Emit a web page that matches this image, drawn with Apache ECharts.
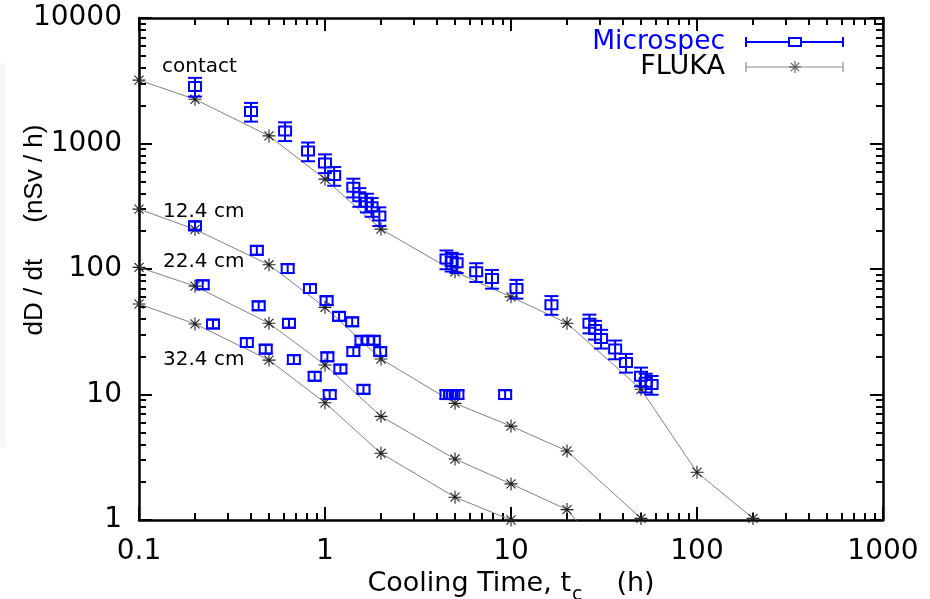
<!DOCTYPE html>
<html>
<head>
<meta charset="utf-8">
<script src="https://cdn.jsdelivr.net/npm/echarts@6/dist/echarts.min.js"></script>
<style>
  html, body { margin: 0; padding: 0; background: #fff; }
  #chart { width: 930px; height: 599px; }
</style>
</head>
<body>
<div id="chart"></div>
<script>
// Axis decades (labelled ticks)
const xTicks = [0.1, 1, 10, 100, 1000];
const yTicks = [1, 10, 100, 1000, 10000];

// FLUKA simulation: cooling time (h) and dose rate (nSv/h) at each depth
const flukaTime = [0.1, 0.2, 0.5, 1, 2, 5, 10, 20, 50, 100, 200];
const flukaContact = [3200, 2250, 1150, 520, 208, 95, 60, 37, 11, 2.4, 1.03];
const fluka124 = [300, 207, 108, 49.5, 19.2, 8.5, 5.6, 3.55, 1.03];
const fluka224 = [103, 73, 37, 17.2, 6.7, 3.06, 1.94, 1.21, 0.25];
const fluka324 = [52.6, 36.5, 18.8, 8.6, 3.4, 1.52, 1.0, 0.5];

// Microspec measurements: cooling time (h) and dose rate (nSv/h)
const msContactTime = [0.2, 0.4, 0.61, 0.81, 1.0, 1.12, 1.42, 1.53, 1.68, 1.78, 1.96,
                       4.5, 4.8, 5.1, 6.5, 7.9, 10.7, 16.5, 26.4, 28.3, 30.5, 36.3, 41.5, 50, 53, 57];
const msContact = [2850, 1800, 1260, 870, 700, 555, 448, 377, 340, 314, 265,
                   120, 115, 112, 95, 84, 70, 52, 37, 33, 28, 23, 18, 14, 12.5, 12];
const ms124Time = [0.2, 0.43, 0.63, 0.83, 1.02, 1.19, 1.4, 1.57, 1.71, 1.83, 1.98, 4.5, 4.7, 4.9, 5.15, 9.3];
const ms124 = [221, 141, 101, 70, 56, 42, 38, 27, 27, 27, 22, 10, 10, 10, 10, 10];
const ms224Time = [0.22, 0.44, 0.64, 1.03, 1.21, 1.42, 1.61];
const ms224 = [75, 51, 37, 20, 16, 22, 11];
const ms324Time = [0.25, 0.38, 0.48, 0.68, 0.88, 1.06];
const ms324 = [36.5, 26, 23, 19, 14, 10];

// Relative measurement uncertainty
const errContact = 0.17;
const errDepth = 0.08;

// Intermediate (unlabelled) log ticks: 2..9 within every decade
function minorTicks(lo, hi) {
  const out = [];
  for (let d = lo; d < hi; d *= 10) {
    for (let k = 2; k <= 9; k++) out.push(+(d * k).toPrecision(3));
  }
  return out;
}
const xMinor = minorTicks(0.1, 1000);
const yMinor = minorTicks(1, 10000);

const BLUE = '#0000ff';
const FONT = 'DejaVu Sans';

function zip(t, v, e) {
  return t.map((x, i) => (e == null ? [x, v[i]] : [x, v[i], v[i] * e]));
}

const chart = echarts.init(document.getElementById('chart'), null, { renderer: 'canvas' });

const axisLine = { show: true, lineStyle: { color: '#000', width: 2.5 } };
const tickStyle = { color: '#000', width: 2 };
const labelFmt = v => String(+(+v).toPrecision(4));

function xAxisDef(position, major, withLabels) {
  return {
    type: 'log', logBase: 10, min: 0.1, max: 1000, position,
    axisLine: major ? axisLine : { show: false },
    axisTick: { show: true, inside: true, length: major ? 13 : 7, lineStyle: tickStyle,
                customValues: major ? xTicks : xMinor },
    axisLabel: withLabels ? { show: true, customValues: xTicks, formatter: labelFmt,
                fontFamily: FONT, fontSize: 28, color: '#000', margin: 18 } : { show: false },
    splitLine: { show: false },
    minorTick: { show: false }
  };
}
function yAxisDef(position, major, withLabels) {
  return {
    type: 'log', logBase: 10, min: 1, max: 10000, position,
    axisLine: major ? axisLine : { show: false },
    axisTick: { show: true, inside: true, length: major ? 13 : 7, lineStyle: tickStyle,
                customValues: major ? yTicks : yMinor },
    axisLabel: withLabels ? { show: true, customValues: yTicks, formatter: labelFmt,
                fontFamily: FONT, fontSize: 28, color: '#000', margin: 17 } : { show: false },
    splitLine: { show: false },
    minorTick: { show: false }
  };
}

const xMain = xAxisDef('bottom', true, true);
xMain.name = '{a|Cooling Time, t}{s|c}{g| }{a|(h)}';
xMain.nameLocation = 'middle';
xMain.nameGap = 44;
xMain.nameTextStyle = {
  rich: {
    a: { fontFamily: FONT, fontSize: 27, color: '#000' },
    s: { fontFamily: FONT, fontSize: 19, color: '#000', padding: [21, 0, 0, 1] },
    g: { fontFamily: FONT, fontSize: 27, width: 34 }
  }
};

// Error bar + open square for each measurement
function renderMeasurement(params, api) {
  const x = api.value(0), y = api.value(1), e = api.value(2);
  const c = api.coord([x, y]);
  const hi = api.coord([x, y + e]);
  const lo = api.coord([x, y - e]);
  const cap = 7;
  const s = { stroke: BLUE, lineWidth: 2, fill: 'none' };
  return {
    type: 'group',
    children: [
      { type: 'line', shape: { x1: c[0], y1: hi[1], x2: c[0], y2: lo[1] }, style: s },
      { type: 'line', shape: { x1: c[0] - cap, y1: hi[1], x2: c[0] + cap, y2: hi[1] }, style: s },
      { type: 'line', shape: { x1: c[0] - cap, y1: lo[1], x2: c[0] + cap, y2: lo[1] }, style: s },
      { type: 'rect', shape: { x: c[0] - 6, y: c[1] - 4.5, width: 12, height: 9 }, style: s }
    ]
  };
}

const STAR = 'path://M10 0L10 20M0 10L20 10M3 3L17 17M3 17L17 3';

function flukaSeries(name, values) {
  return {
    name, type: 'line', xAxisIndex: 0, yAxisIndex: 0,
    data: zip(flukaTime.slice(0, values.length), values),
    clip: true,
    symbol: STAR, symbolSize: 13,
    lineStyle: { color: '#808080', width: 1 },
    itemStyle: { color: '#222', borderColor: '#222', borderWidth: 1.1 },
    emphasis: { disabled: true },
    z: 3
  };
}
function msSeries(name, t, v, err) {
  return {
    name, type: 'custom', xAxisIndex: 0, yAxisIndex: 0,
    data: zip(t, v, err),
    encode: { x: 0, y: 1 },
    renderItem: renderMeasurement,
    z: 4
  };
}

function star(cx, cy, r, color) {
  const d = r * 0.7;
  const st = { stroke: color, lineWidth: 1.1 };
  return [
    { type: 'line', shape: { x1: cx, y1: cy - r, x2: cx, y2: cy + r }, style: st },
    { type: 'line', shape: { x1: cx - r, y1: cy, x2: cx + r, y2: cy }, style: st },
    { type: 'line', shape: { x1: cx - d, y1: cy - d, x2: cx + d, y2: cy + d }, style: st },
    { type: 'line', shape: { x1: cx - d, y1: cy + d, x2: cx + d, y2: cy - d }, style: st }
  ];
}

const keyLeft = 746, keyRight = 843, keyMid = 795;
const blueKey = { stroke: BLUE, lineWidth: 2 };
const grayKey = { stroke: '#8c8c8c', lineWidth: 1.2 };

const option = {
  animation: false,
  backgroundColor: '#fff',
  grid: { left: 139, right: 47, top: 18, bottom: 79, containLabel: false, outerBoundsMode: 'none' },
  xAxis: [
    xMain,
    xAxisDef('bottom', false, false),
    xAxisDef('top', true, false),
    xAxisDef('top', false, false)
  ],
  yAxis: [
    yAxisDef('left', true, true),
    yAxisDef('left', false, false),
    yAxisDef('right', true, false),
    yAxisDef('right', false, false)
  ],
  series: [
    flukaSeries('FLUKA contact', flukaContact),
    flukaSeries('FLUKA 12.4 cm', fluka124),
    flukaSeries('FLUKA 22.4 cm', fluka224),
    flukaSeries('FLUKA 32.4 cm', fluka324),
    msSeries('Microspec contact', msContactTime, msContact, errContact),
    msSeries('Microspec 12.4 cm', ms124Time, ms124, errDepth),
    msSeries('Microspec 22.4 cm', ms224Time, ms224, errDepth),
    msSeries('Microspec 32.4 cm', ms324Time, ms324, errDepth)
  ],
  graphic: [
    // faint strip along the left edge
    { type: 'rect', shape: { x: 0, y: 63, width: 6, height: 384 }, style: { fill: '#f7f7f7' }, z: -1 },
    // y-axis title
    { type: 'text', x: 35, y: 230, rotation: Math.PI / 2,
      style: { text: 'dD / dt     (nSv / h)', fontFamily: 'Liberation Sans', fontSize: 26,
               fill: '#000', align: 'center', verticalAlign: 'middle' } },
    // curve labels
    { type: 'text', x: 162, y: 67, style: { text: 'contact', fontFamily: FONT, fontSize: 20, fill: '#000', verticalAlign: 'middle' } },
    { type: 'text', x: 163, y: 212, style: { text: '12.4 cm', fontFamily: FONT, fontSize: 20, fill: '#000', verticalAlign: 'middle' } },
    { type: 'text', x: 163, y: 262, style: { text: '22.4 cm', fontFamily: FONT, fontSize: 20, fill: '#000', verticalAlign: 'middle' } },
    { type: 'text', x: 163, y: 360, style: { text: '32.4 cm', fontFamily: FONT, fontSize: 20, fill: '#000', verticalAlign: 'middle' } },
    // key
    { type: 'text', x: 725, y: 42, style: { text: 'Microspec', fontFamily: FONT, fontSize: 26.5, fill: BLUE, align: 'right', verticalAlign: 'middle' } },
    { type: 'text', x: 725, y: 67, style: { text: 'FLUKA', fontFamily: FONT, fontSize: 27, fill: '#000', align: 'right', verticalAlign: 'middle' } },
    { type: 'group', children: [
      { type: 'line', shape: { x1: keyLeft, y1: 42, x2: keyRight, y2: 42 }, style: blueKey },
      { type: 'line', shape: { x1: keyLeft, y1: 37, x2: keyLeft, y2: 47 }, style: blueKey },
      { type: 'line', shape: { x1: keyRight, y1: 37, x2: keyRight, y2: 47 }, style: blueKey },
      { type: 'rect', shape: { x: keyMid - 6, y: 38, width: 12, height: 8 }, style: { stroke: BLUE, lineWidth: 2, fill: '#fff' } },
      { type: 'line', shape: { x1: keyLeft, y1: 67, x2: keyRight, y2: 67 }, style: grayKey },
      { type: 'line', shape: { x1: keyLeft, y1: 62, x2: keyLeft, y2: 72 }, style: grayKey },
      { type: 'line', shape: { x1: keyRight, y1: 62, x2: keyRight, y2: 72 }, style: grayKey }
    ].concat(star(keyMid, 67, 6, '#555')) }
  ]
};

chart.setOption(option);
</script>
</body>
</html>
